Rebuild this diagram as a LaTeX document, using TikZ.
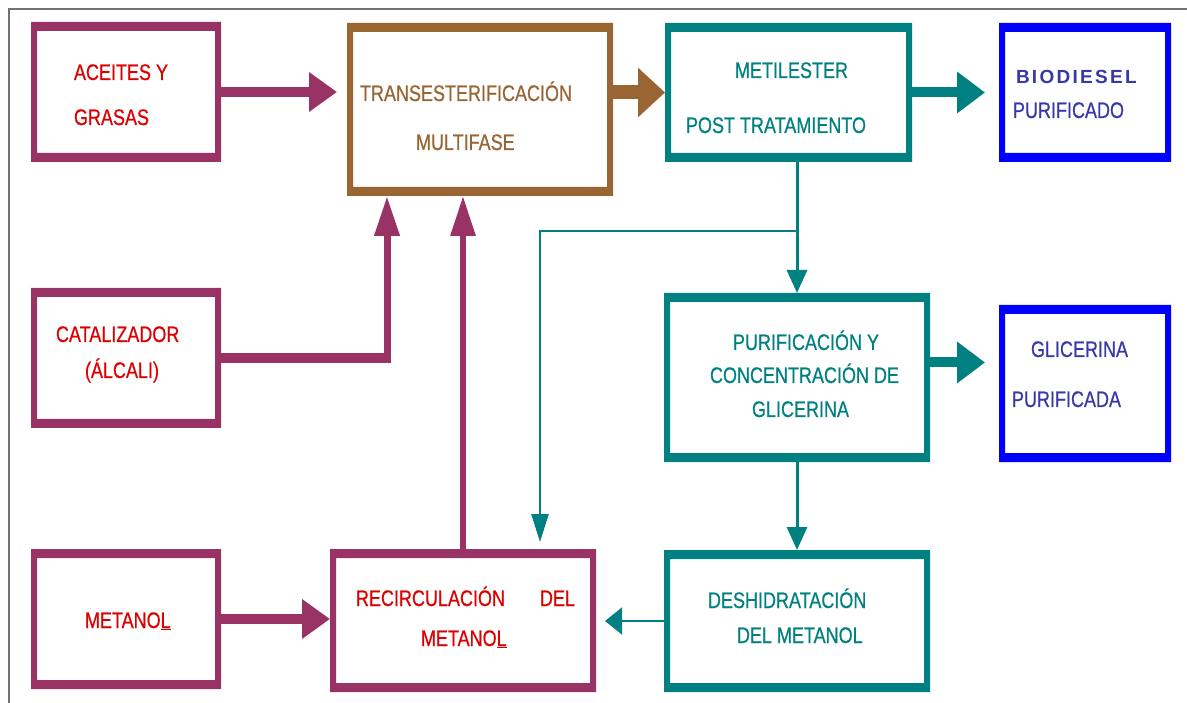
\documentclass[tikz,border=0pt]{standalone}
\usepackage{fontspec}
\setmainfont{Liberation Sans}[FakeStretch=0.8,FakeBold=0.6]
\newfontfamily\widebold{Liberation Sans}[LetterSpace=12]
\usetikzlibrary{arrows.meta}

\definecolor{plum}{HTML}{993366}
\definecolor{bronze}{HTML}{996633}
\definecolor{tealc}{HTML}{008080}
\definecolor{bluec}{HTML}{0000FF}
\definecolor{redtx}{HTML}{DD0000}
\definecolor{bluetx}{HTML}{3838A8}

% process box: name, colour, x1, y1, x2, y2 (pixel units, y downwards)
\newcommand\procbox[6]{%
  \node[inner sep=0pt, outer sep=0pt,
        minimum width={(#5-#3)*1pt}, minimum height={(#6-#4)*1pt}]
        (#1) at ({(#3+#5)/2},{(#4+#6)/2}) {};
  \fill[#2, even odd rule]
    (#1.north west) rectangle (#1.south east)
    ([xshift=6pt,yshift=-9pt]#1.north west) rectangle ([xshift=-6pt,yshift=9pt]#1.south east);
}

\tikzset{
  lbl/.style={anchor=base west, inner sep=0pt, outer sep=0pt,
              font=\fontsize{22.5}{25}\selectfont},
  fatplum/.style={plum, line width=10pt, -{Triangle[length=28pt,width=38pt]}},
  fatbronze/.style={bronze, line width=14pt, -{Triangle[length=27pt,width=48pt]}},
  fatteal/.style={tealc, line width=10pt, -{Triangle[length=28pt,width=40pt]}},
  upplum/.style={plum, -{Triangle[length=40pt,width=24pt]}},
  thinteal/.style={tealc, line width=3pt, -{Triangle[length=23pt,width=20pt]}},
}

\begin{document}
\begin{tikzpicture}[x=1pt, y=-1pt]
\useasboundingbox (0,0) rectangle (1187,703);
\fill[white] (0,0) rectangle (1187,703);

% outer frame
\draw[black!55, line width=2pt] (9,703) -- (9,9) -- (1187,9);

% boxes
\procbox{aceites}{plum}{31}{22}{221}{162}
\procbox{trans}{bronze}{347}{23}{613}{196}
\procbox{metil}{tealc}{665}{23}{912}{162}
\procbox{bio}{bluec}{999}{23}{1171}{162}
\procbox{cata}{plum}{31}{288}{221}{428}
\procbox{purif}{tealc}{664}{293}{930}{462}
\procbox{glic}{bluec}{999}{305}{1171}{462}
\procbox{metanol}{plum}{31}{549}{221}{689}
\procbox{recirc}{plum}{330}{549}{596}{692}
\procbox{desh}{tealc}{664}{550}{930}{692}

% labels
\node[lbl, redtx] (tAce1) at (74,80) {ACEITES Y};
\node[lbl, redtx] (tAce2) at (74,125) {GRASAS};
\node[lbl, bronze] (tTra1) at (360,101) {TRANSESTERIFICACIÓN};
\node[lbl, bronze] (tTra2) at (416,150) {MULTIFASE};
\node[lbl, tealc] (tMet1) at (735,78) {METILESTER};
\node[lbl, tealc] (tMet2) at (686,133) {POST TRATAMIENTO};
\node[lbl, bluetx, font=\fontsize{19}{22}\selectfont\widebold\bfseries] (tBio1) at (1016,84) {BIODIESEL};
\node[lbl, bluetx] (tBio2) at (1013,118) {PURIFICADO};
\node[lbl, redtx] (tCat1) at (56,342) {CATALIZADOR};
\node[lbl, redtx] (tCat2) at (85,378) {(ÁLCALI)};
\node[lbl, tealc] (tPur1) at (733,350) {PURIFICACIÓN Y};
\node[lbl, tealc] (tPur2) at (710,383) {CONCENTRACIÓN DE};
\node[lbl, tealc] (tPur3) at (752,417) {GLICERINA};
\node[lbl, bluetx] (tGli1) at (1031,357) {GLICERINA};
\node[lbl, bluetx] (tGli2) at (1012,407) {PURIFICADA};
\node[lbl, redtx] (tMeo) at (85,628) {METANO\underline{L}};
\node[lbl, redtx] (tRec1) at (356,606) {RECIRCULACIÓN};
\node[lbl, redtx] (tRec2) at (540,606) {DEL};
\node[lbl, redtx] (tRec3) at (421,646) {METANO\underline{L}};
\node[lbl, tealc] (tDes1) at (708,608) {DESHIDRATACIÓN};
\node[lbl, tealc] (tDes2) at (737,643) {DEL METANOL};

% helper points on box edges
\coordinate (transIn) at ([xshift=40pt]trans.south west);
\coordinate (cataBend) at (cata.east -| transIn);
\coordinate (branch) at (purif.north |- 0,231);
\coordinate (recircIn) at ([xshift=210pt]recirc.north west);

% connectors
\draw[fatplum] (aceites.east) -- (aceites.east -| trans.west) [shorten >=10pt];
\draw[fatbronze] (trans.east |- metil.west) -- (metil.west);
\draw[fatteal, shorten >=14pt] (metil.west -| metil.east) -- (metil.east -| bio.west);
\draw[plum, line width=10pt] (cata.east) -- ([xshift=3.5pt]cataBend);
\draw[upplum, line width=7pt] (cataBend) -- (transIn);
\draw[upplum, line width=6pt] (recirc.north) -- (recirc.north |- trans.south);
\draw[thinteal] (purif.north |- metil.south) -- (purif.north);
\draw[tealc, line width=2.5pt, -{Triangle[length=28pt,width=17pt]}, shorten >=7pt]
  (branch) -| (recircIn);
\draw[fatteal, shorten >=14pt] ([yshift=15pt]purif.east) -- ([yshift=15pt]purif.east -| glic.west);
\draw[thinteal] (purif.south) -- (desh.north);
\draw[tealc, line width=1.5pt, -{Triangle[length=17pt,width=27pt]}, shorten >=9pt]
  (desh.west) -- (desh.west -| recirc.east);
\draw[fatplum] (metanol.east) -- (metanol.east -| recirc.west);
\end{tikzpicture}
\end{document}
